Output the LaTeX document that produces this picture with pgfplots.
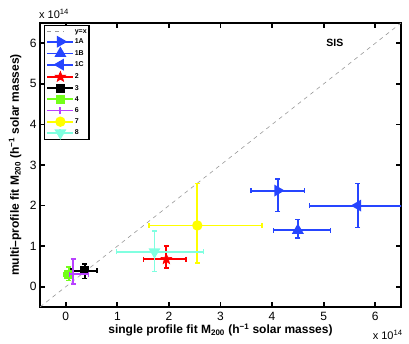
\documentclass[border=0pt]{standalone}
\usepackage{fontspec}
\setmainfont{Liberation Sans}
\usepackage{pgfplots}
\pgfplotsset{compat=1.18}
\definecolor{cBlue}{rgb}{0.15,0.27,1}
\definecolor{cGreen}{rgb}{0.45,1,0.1}
\definecolor{cPurple}{rgb}{0.72,0.25,1}
\definecolor{cCyan}{rgb}{0.5,1,0.88}
\definecolor{cYellow}{rgb}{1,1,0}
\pgfdeclareplotmark{fstar}{%
 \pgfpathmoveto{\pgfpointpolar{90}{\pgfplotmarksize}}%
 \pgfpathlineto{\pgfpointpolar{126}{0.42\pgfplotmarksize}}%
 \pgfpathlineto{\pgfpointpolar{162}{\pgfplotmarksize}}%
 \pgfpathlineto{\pgfpointpolar{198}{0.42\pgfplotmarksize}}%
 \pgfpathlineto{\pgfpointpolar{234}{\pgfplotmarksize}}%
 \pgfpathlineto{\pgfpointpolar{270}{0.42\pgfplotmarksize}}%
 \pgfpathlineto{\pgfpointpolar{306}{\pgfplotmarksize}}%
 \pgfpathlineto{\pgfpointpolar{342}{0.42\pgfplotmarksize}}%
 \pgfpathlineto{\pgfpointpolar{18}{\pgfplotmarksize}}%
 \pgfpathlineto{\pgfpointpolar{54}{0.42\pgfplotmarksize}}%
 \pgfpathclose\pgfusepathqfillstroke}
\begin{document}
\begin{tikzpicture}
\pgfplotsset{
  errleg/.style={legend image code/.code={
    \draw[##1,solid] (0pt,0pt) -- (26pt,0pt);
    \draw[##1,solid] (13pt,-3.5pt) -- (13pt,3.5pt);
    \draw[##1] plot coordinates {(13pt,0pt)};
  }},
  eb/.style={line width=1.9pt, solid,
    error bars/x dir=both, error bars/y dir=both,
    error bars/x explicit, error bars/y explicit,
    error bars/error bar style={line width=1.9pt, solid},
    error bars/error mark options={rotate=90, mark size=2.5pt, line width=1.5pt, solid}},
}
\begin{axis}[
  scale only axis, width=361pt, height=284pt,
  xmin=-0.5, xmax=6.5, ymin=-0.5, ymax=6.5,
  xtick={0,1,2,3,4,5,6}, ytick={0,1,2,3,4,5,6},
  tick align=inside, major tick length=5pt,
  axis line style={line width=1.8pt},
  every tick/.style={line width=1.8pt, black},
  /pgf/number format/assume math mode=true,
  ticklabel style={font=\fontsize{12}{12}\selectfont},
  xticklabel style={yshift=-2pt},
  xlabel={\bfseries single profile fit M\textsubscript{200} (h\textsuperscript{−1} solar masses)},
  ylabel={\bfseries multi–profile fit M\textsubscript{200} (h\textsuperscript{−1} solar masses)},
  label style={font=\fontsize{12}{12}\selectfont},
  xlabel style={at={(axis description cs:0.5,-0.093)}, anchor=base},
  ylabel style={at={(axis description cs:-0.069,0.5)}, anchor=center},
  legend style={at={(axis description cs:0,1)}, anchor=north west, xshift=4pt, yshift=-2pt,
    font=\bfseries\fontsize{7}{7}\selectfont, draw=black, line width=1.3pt,
    inner sep=1.8pt, row sep=2.3pt,
    nodes={inner sep=0.5pt, text height=5.2pt, text depth=1.3pt}},
  legend cell align=left,
  clip mode=individual,
]
\addplot[gray!80, line width=0.6pt, dash pattern=on 4pt off 4pt, mark=none] coordinates {(-0.5,-0.5) (6.5,6.5)};
\addlegendentry{y=x}
\addplot[cBlue, eb, errleg, mark=triangle*, mark options={rotate=-90, solid}, mark size=5pt]
  coordinates {(4.11,2.37) += (0.52,0.29) -= (0.52,0.52)};
\addlegendentry{1A}
\addplot[cBlue, eb, errleg, mark=triangle*, mark options={solid}, mark size=5pt]
  coordinates {(4.50,1.39) += (0.63,0.27) -= (0.47,0.19)};
\addlegendentry{1B}
\addplot[cBlue, eb, errleg, mark=triangle*, mark options={rotate=90, solid}, mark size=5pt]
  coordinates {(5.66,2.00) += (1.20,0.54) -= (0.93,0.54)};
\addlegendentry{1C}
\addplot[red, eb, errleg, mark=fstar, mark options={solid, line width=0.6pt}, mark size=5.5pt]
  coordinates {(1.95,0.68) += (0.38,0.32) -= (0.44,0.22)};
\addlegendentry{2}
\addplot[black, eb, errleg, mark=square*, mark options={solid}, mark size=3.5pt]
  coordinates {(0.37,0.39) += (0.24,0.17) -= (0.27,0.19)};
\addlegendentry{3}
\addplot[cGreen, eb, errleg, mark=square*, mark options={solid}, mark size=3.5pt]
  coordinates {(0.06,0.31) += (0.07,0.18) -= (0.09,0.16)};
\addlegendentry{4}
\addplot[cPurple, eb, errleg, mark=none]
  coordinates {(0.14,0.31) += (0.30,0.37) -= (0.07,0.24)};
\addlegendentry{6}
\addplot[cYellow, eb, errleg, mark=*, mark options={solid}, mark size=4.2pt]
  coordinates {(2.55,1.51) += (1.25,1.03) -= (0.94,0.92)};
\addlegendentry{7}
\addplot[cCyan, eb, errleg, mark=triangle*, mark options={rotate=180, solid}, mark size=5pt]
  coordinates {(1.72,0.86) += (0.95,0.51) -= (0.74,0.49)};
\addlegendentry{8}
\node[font=\bfseries\fontsize{10.5}{11}\selectfont] at (axis description cs:0.817,0.93) {SIS};
\node[anchor=base west, inner sep=0pt, font=\fontsize{11}{11}\selectfont] at (axis description cs:-0.003,1.0176) {x 10\textsuperscript{14}};
\node[anchor=base east, inner sep=0pt, font=\fontsize{11}{11}\selectfont] at (axis description cs:1.005,-0.113) {x 10\textsuperscript{14}};
\end{axis}
\useasboundingbox ([shift={(-40pt,-36pt)}]current axis.south west) rectangle ([shift={(8pt,23pt)}]current axis.north east);
\end{tikzpicture}
\end{document}
